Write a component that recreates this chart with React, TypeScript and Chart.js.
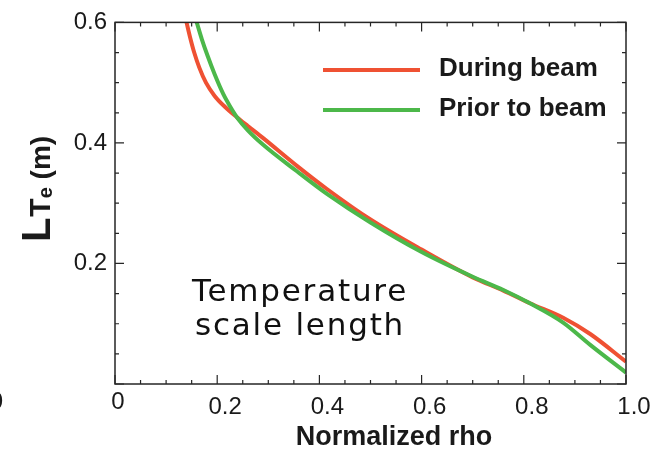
import React, { useEffect, useRef } from 'react';
import { Chart, registerables } from 'chart.js';

Chart.register(...registerables);

// ---- data ----
const rhoDuring = [0.14, 0.147, 0.155, 0.165, 0.178, 0.195, 0.215, 0.238, 0.26, 0.29, 0.356, 0.414, 0.5, 0.6, 0.7, 0.76, 0.812, 0.877, 0.93, 1.0];
const lteDuring = [0.6, 0.575, 0.55, 0.525, 0.5, 0.478, 0.46, 0.443, 0.428, 0.408, 0.362, 0.324, 0.273, 0.223, 0.177, 0.155, 0.134, 0.11, 0.083, 0.037];
const rhoPrior = [0.16, 0.17, 0.181, 0.195, 0.212, 0.225, 0.24, 0.26, 0.29, 0.356, 0.414, 0.5, 0.6, 0.7, 0.76, 0.812, 0.877, 0.93, 1.0];
const ltePrior = [0.6, 0.572, 0.545, 0.514, 0.481, 0.461, 0.441, 0.421, 0.397, 0.353, 0.316, 0.268, 0.219, 0.178, 0.156, 0.134, 0.102, 0.065, 0.019];

const seriesNames = ['During beam', 'Prior to beam'];
const seriesColors = ['#ef5133', '#4cb84a'];
const xTickValues = [0.2, 0.4, 0.6, 0.8, 1.0];
const yTickValues = [0.2, 0.4, 0.6];
const annotationLines = ['Temperature', 'scale length'];
const xTitle = 'Normalized rho';

const SANS = '"Liberation Sans", Arial, Helvetica, sans-serif';
const INK = '#1a1a1a';

const overlay = {
  id: 'overlay',
  afterDraw(chart: any) {
    const { ctx, chartArea: a, scales } = chart;
    const xs = scales.x;
    const ys = scales.y;
    ctx.save();
    // frame
    ctx.strokeStyle = '#262626';
    ctx.lineWidth = 1.5;
    ctx.strokeRect(a.left, a.top, a.right - a.left, a.bottom - a.top);
    // inward ticks on all four sides
    ctx.lineWidth = 1.2;
    ctx.beginPath();
    for (let i = 0; i <= 20; i++) {
      const px = xs.getPixelForValue(i * 0.05);
      const len = i % 4 === 0 ? 9 : 4;
      ctx.moveTo(px, a.bottom);
      ctx.lineTo(px, a.bottom - len);
      ctx.moveTo(px, a.top);
      ctx.lineTo(px, a.top + len);
    }
    for (let i = 0; i <= 12; i++) {
      const py = ys.getPixelForValue(i * 0.05);
      const len = i % 4 === 0 ? 9 : 4;
      ctx.moveTo(a.left, py);
      ctx.lineTo(a.left + len, py);
      ctx.moveTo(a.right, py);
      ctx.lineTo(a.right - len, py);
    }
    ctx.stroke();

    // origin labels
    ctx.fillStyle = INK;
    ctx.font = `24px ${SANS}`;
    ctx.textBaseline = 'alphabetic';
    ctx.textAlign = 'center';
    ctx.fillText('0', xs.getPixelForValue(0) + 3, 409);
    ctx.textAlign = 'right';
    ctx.fillText('0', 3, 409);

    // x title
    ctx.textAlign = 'center';
    ctx.font = `bold 27px ${SANS}`;
    ctx.fillText(xTitle, 394, 445);

    // y title: L T_e (m)
    const pieces = [
      { t: 'L', f: `bold 40px ${SANS}`, dy: 0, gap: 1 },
      { t: 'T', f: `bold 30px ${SANS}`, dy: 0, gap: 0 },
      { t: 'e', f: `bold 20px ${SANS}`, dy: 2, gap: 0 },
      { t: ' (m)', f: `bold 28px ${SANS}`, dy: 0, gap: 0 },
    ];
    let total = 0;
    const widths = pieces.map((p) => {
      ctx.font = p.f;
      const w = ctx.measureText(p.t).width + p.gap;
      total += w;
      return w;
    });
    ctx.save();
    ctx.translate(50, 189);
    ctx.rotate(-Math.PI / 2);
    ctx.textAlign = 'left';
    let cx = -total / 2;
    pieces.forEach((p, i) => {
      ctx.font = p.f;
      ctx.fillText(p.t, cx, p.dy);
      cx += widths[i];
    });
    ctx.restore();

    // legend
    const legendY = [70, 110];
    const textY = [76, 116];
    seriesNames.forEach((name, i) => {
      ctx.strokeStyle = seriesColors[i];
      ctx.lineWidth = 4;
      ctx.beginPath();
      ctx.moveTo(323, legendY[i]);
      ctx.lineTo(420, legendY[i]);
      ctx.stroke();
      ctx.fillStyle = INK;
      ctx.font = `bold 26px ${SANS}`;
      ctx.textAlign = 'left';
      ctx.fillText(name, 439, textY[i]);
    });

    // annotation
    ctx.fillStyle = '#111';
    ctx.font = '31px "DejaVu Sans", sans-serif';
    ctx.textAlign = 'center';
    try {
      (ctx as any).letterSpacing = '1.8px';
    } catch (e) {
      /* ignore */
    }
    ctx.fillText(annotationLines[0], 300, 301);
    ctx.fillText(annotationLines[1], 300, 335);
    ctx.restore();
  },
};

export default function App() {
  const ref = useRef<HTMLCanvasElement>(null);
  useEffect(() => {
    const canvas = ref.current;
    if (!canvas) return;
    const toPts = (xs: number[], ys: number[]) => xs.map((x, i) => ({ x, y: ys[i] }));
    const chart = new Chart(canvas, {
      type: 'line',
      data: {
        datasets: [
          {
            label: seriesNames[1],
            data: toPts(rhoPrior, ltePrior),
            borderColor: seriesColors[1],
            backgroundColor: seriesColors[1],
            borderWidth: 4,
            pointRadius: 0,
            cubicInterpolationMode: 'monotone',
            fill: false,
          },
          {
            label: seriesNames[0],
            data: toPts(rhoDuring, lteDuring),
            borderColor: seriesColors[0],
            backgroundColor: seriesColors[0],
            borderWidth: 4,
            pointRadius: 0,
            cubicInterpolationMode: 'monotone',
            fill: false,
          },
        ],
      },
      options: {
        responsive: false,
        animation: false,
        devicePixelRatio: 1,
        layout: { padding: { top: 21, right: 43, left: 0, bottom: 0 } },
        plugins: { legend: { display: false }, tooltip: { enabled: false } },
        scales: {
          x: {
            type: 'linear',
            min: 0,
            max: 1,
            grid: { display: false, drawTicks: false },
            border: { display: false },
            afterBuildTicks: (s: any) => {
              s.ticks = [{ value: 0 }, ...xTickValues.map((v) => ({ value: v }))];
            },
            ticks: {
              autoSkip: false,
              maxRotation: 0,
              padding: 9,
              labelOffset: 8,
              color: INK,
              font: { family: SANS, size: 24 },
              callback: (v: any) => (Number(v) === 0 ? '' : Number(v).toFixed(1)),
            },
            afterFit: (s: any) => {
              s.height = 66;
            },
          },
          y: {
            type: 'linear',
            min: 0,
            max: 0.6,
            grid: { display: false, drawTicks: false },
            border: { display: false },
            afterBuildTicks: (s: any) => {
              s.ticks = [{ value: 0 }, ...yTickValues.map((v) => ({ value: v }))];
            },
            ticks: {
              autoSkip: false,
              padding: 8,
              color: INK,
              font: { family: SANS, size: 24 },
              callback: (v: any) => (Number(v) === 0 ? '' : Number(v).toFixed(1)),
            },
            afterFit: (s: any) => {
              s.width = 115;
            },
          },
        },
      },
      plugins: [overlay],
    } as any);
    return () => chart.destroy();
  }, []);
  return (
    <div style={{ position: 'fixed', left: 0, top: 0, width: 669, height: 450, background: '#fff' }}>
      <canvas ref={ref} width={669} height={450} style={{ display: 'block', width: 669, height: 450 }} />
    </div>
  );
}
